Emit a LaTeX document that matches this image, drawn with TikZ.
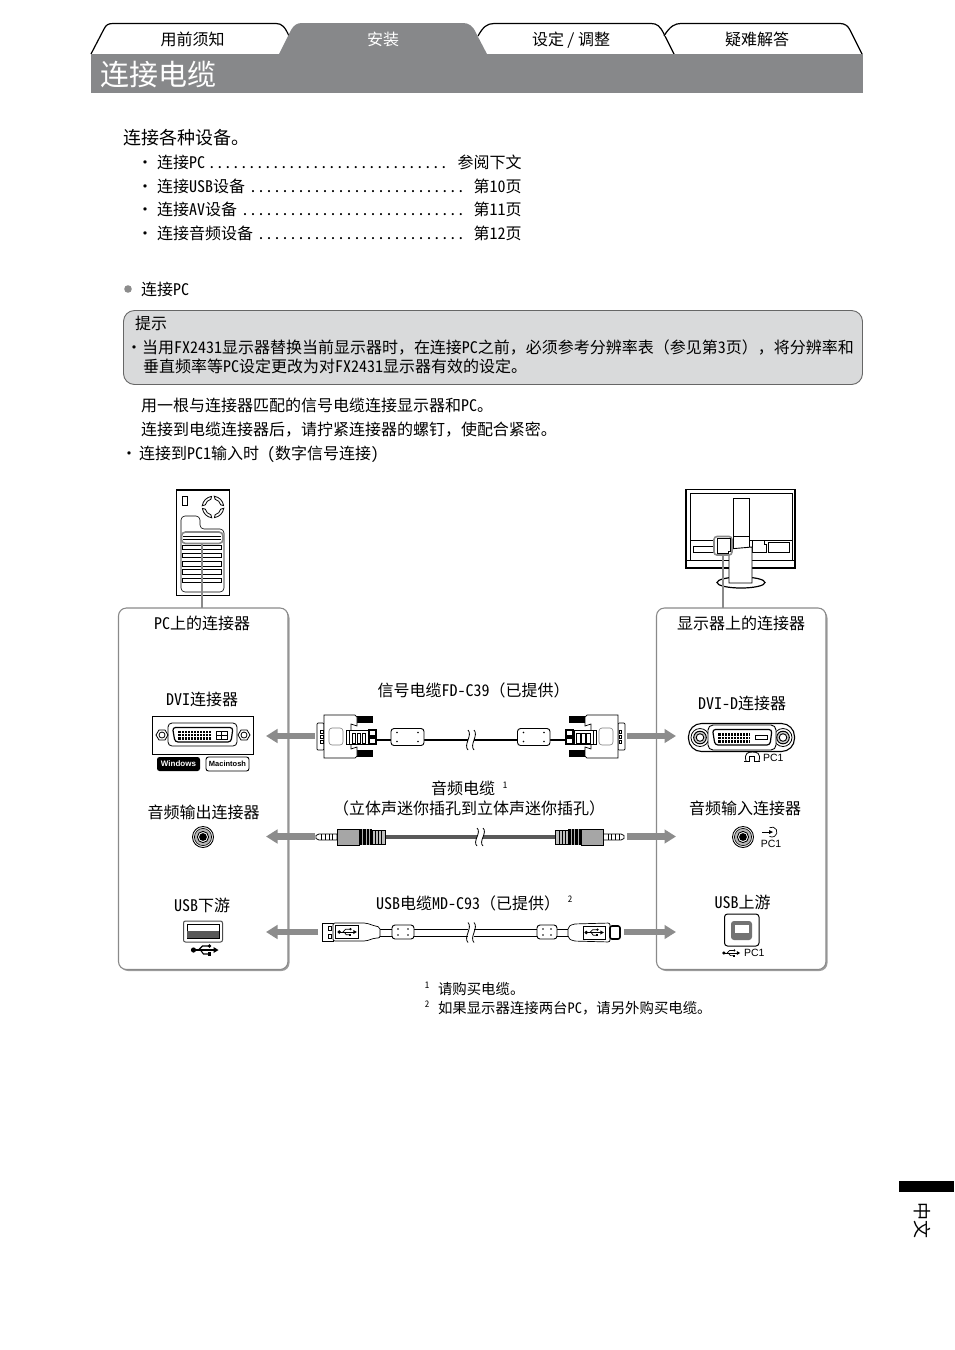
\documentclass[tikz,border=0pt]{standalone}
\usepackage{fontspec}
\setmainfont{Noto Sans CJK SC}[RawFeature=+hwid]
\newfontfamily\fwf{Noto Sans CJK SC}
\newcommand{\fw}[1]{{\fwf #1}}
\newfontfamily\arial{Liberation Sans}
\usetikzlibrary{arrows.meta}
\definecolor{hdr}{HTML}{87888A}
\definecolor{arr}{HTML}{8C8C8C}
\definecolor{hint}{HTML}{D9DADB}
\definecolor{panelc}{HTML}{8A8A8A}
\newcommand{\fs}[1]{\fontsize{#1}{#1}\selectfont}
\tikzset{
 tx/.style={inner sep=0,outer sep=0,font=\fs{16},text height=15pt,text depth=2pt},
 txs/.style={inner sep=0,outer sep=0,font=\fs{14.4},text height=12pt,text depth=2pt},
 sup/.style={inner sep=0,outer sep=0,font=\fs{9}},
 pc/.style={inner sep=0,outer sep=0,font=\arial\fs{10.5}},
 tabline/.style={draw=black,line width=1.2pt,fill=white,line join=round},
 grayhl/.style={draw=panelc,line width=1.6pt},
 garrow/.style={draw=arr,line width=6.5pt,-{Triangle[width=13.5pt,length=11.5pt]}},
 panel/.style={draw=panelc,line width=1.1pt,rounded corners=8pt,fill=white},
 shadow/.style={draw=none,fill=black!38,rounded corners=8pt},
 thin1/.style={draw=black,line width=.7pt},
}
% USB symbol
\newcommand{\usbsym}[3]{\begin{scope}[shift={(#1,#2)},scale=#3]
 \draw[black,line width=#3*1.3pt] (-11,0) -- (10,0);
 \fill (-11,0) circle (2.6);
 \fill (14,0) -- (9,-3) -- (9,3) -- cycle;
 \draw[black,line width=#3*1.1pt] (-6,0) -- (-2,-4) -- (4,-4);
 \fill (5,-4) circle (1.8);
 \draw[black,line width=#3*1.1pt] (-4,0) -- (-1,4) -- (4,4);
 \fill (3,2.4) rectangle (6.2,5.6);
\end{scope}}
% Jack
\newcommand{\jack}[2]{\begin{scope}[shift={(#1,#2)}]
 \draw[black,line width=.9pt,fill=white] (0,0) circle (10.5);
 \draw[black,line width=.6pt,fill=black!28] (0,0) circle (8.6);
 \draw[black,line width=.9pt,fill=white] (0,0) circle (5.6);
 \fill (0,0) circle (3.9);
\end{scope}}
% pin grid
\newcommand{\pins}[4]{\fill (#1,#2) rectangle (#3,#4);
 \foreach \i in {1,...,40}{\pgfmathsetmacro\xx{#1+\i*3}\pgfmathparse{\xx<#3?1:0}\ifnum\pgfmathresult=1\relax
  \draw[white,line width=.9pt] (\xx,#2) -- (\xx,#4);\fi}
 \draw[white,line width=.9pt] (#1,{(#2+#4)/2-1.5}) -- (#3,{(#2+#4)/2-1.5}) (#1,{(#2+#4)/2+1.5}) -- (#3,{(#2+#4)/2+1.5});}
% DVI plug, left side form
\newcommand{\dviplug}{
 \draw[thin1,fill=white,rounded corners=1pt] (317,723) rectangle (324,750);
 \foreach \y in {730,735,740} \draw[black,line width=.7pt,fill=white] (320.5,\y) rectangle (323,\y+3);
 \fill (357,716) rectangle (373,723);
 \fill (357,750) rectangle (373,757);
 \draw[thin1,fill=white] (324,715) -- (355,715) -- (357,717) -- (357,726) -- (351,724) -- (351,749) -- (357,747) -- (357,756) -- (355,758) -- (324,758) -- cycle;
 \draw[black!50,line width=.6pt,rounded corners=3pt] (329,728) rectangle (343,745);
 \draw[thin1,fill=white] (346,730) rectangle (368,744);
 \draw[black,line width=1pt] (346,730) rectangle (349,744);
 \foreach \x in {352,357,362} \draw[black,line width=.8pt] (\x,733) rectangle (\x+3.5,743);
 \fill (368,729) rectangle (377,745);
 \foreach \y in {731,739} \fill[white] (370,\y) rectangle (375,\y+4);
}
\newcommand{\ferrite}[4]{\draw[black,line width=.9pt,fill=white,rounded corners=3pt] (#1,#2) rectangle (#3,#4);
 \foreach \px in {#1+6,#3-6} \foreach \py in {#2+4,#4-4} \fill (\px,\py) circle (.8);}
\newcommand{\brk}[3]{\fill[white] (#1-3,#2-#3) rectangle (#1+3,#2+#3);
 \draw[black,line width=.8pt] (#1-3,#2-#3) .. controls (#1+2,#2-#3/2) and (#1-8,#2+#3/2) .. (#1-3,#2+#3);
 \draw[black,line width=.8pt] (#1+3,#2-#3) .. controls (#1+8,#2-#3/2) and (#1-2,#2+#3/2) .. (#1+3,#2+#3);}
\newcommand{\audioplug}{
 \draw[thin1,fill=white] (316,835.5) -- (319,834) -- (337,834) -- (337,840) -- (319,840) -- (316,838.5) -- cycle;
 \foreach \x in {321,325,329,332} \draw[black,line width=.8pt] (\x,834) -- (\x,840);
 \draw[thin1,fill=black!35] (337,829) rectangle (359,845);
 \fill (359,829) rectangle (372,845);
 \foreach \x in {362,366,369} \draw[white!70!black,line width=.7pt] (\x,829) -- (\x,845);
 \draw[thin1,fill=black!25] (372,830) rectangle (385,844);
 \foreach \x in {375,378,381} \draw[black,line width=.6pt] (\x,830) -- (\x,844);
}
\begin{document}
\begin{tikzpicture}[x=1pt,y=-1pt]
\useasboundingbox (0,0) rectangle (954,1350);
% Header tabs
\draw[tabline] (91,54) -- (104,29) .. controls (106,25) and (108,23.5) .. (113,23.5) -- (276,23.5) .. controls (282,23.5) and (285,27) .. (289,36) -- (296,54);
\draw[tabline] (478,36) .. controls (483,27) and (487,23.5) .. (494,23.5) -- (651,23.5) .. controls (657,23.5) and (660,26) .. (664,34) -- (674,54);
\draw[tabline] (664,36) .. controls (670,26) and (675,23.5) .. (681,23.5) -- (840,23.5) .. controls (845,23.5) and (848,26) .. (850,30) -- (862,54);
\fill[hdr] (279,54) -- (291,30) .. controls (294,25) and (297,23) .. (302,23) -- (463,23) .. controls (469,23) and (473,26) .. (476,33) -- (488,56) -- cycle;
\fill[hdr] (91,54) rectangle (863,93);
\node[tx] (tab1) at (192.5,39) {用前须知};
\node[tx,text=white] (tab2) at (383,39) {安装};
\node[tx] (tab3) at (571,39) {设定\hspace{3pt}/\hspace{3pt}调整};
\node[tx] (tab4) at (757,39) {疑难解答};
\node[inner sep=0,outer sep=0,text=white,font=\fs{29},text height=26pt,text depth=3pt,anchor=west] (title) at (100,74) {连接电缆};
% Intro
\node[inner sep=0,font=\fs{18},text height=17pt,text depth=2pt,anchor=west] (intro) at (123,137) {连接各种设备。};
\node[tx,anchor=west] (b1) at (137,162) {•};
\node[tx,anchor=west] (b2) at (137,186) {•};
\node[tx,anchor=west] (b3) at (137,209) {•};
\node[tx,anchor=west] (b4) at (137,233) {•};
\node[tx,anchor=west] (l1) at (157,162) {连接PC\hspace{3pt}..............................};
\node[tx,anchor=west] (l2) at (157,186) {连接USB设备\hspace{4pt}...........................};
\node[tx,anchor=west] (l3) at (157,209) {连接AV设备\hspace{4pt}............................};
\node[tx,anchor=west] (l4) at (157,233) {连接音频设备\hspace{4pt}..........................};
\node[tx,anchor=east] (r1) at (521.5,162) {参阅下文};
\node[tx,anchor=east] (r2) at (521.5,186) {第10页};
\node[tx,anchor=east] (r3) at (521.5,209) {第11页};
\node[tx,anchor=east] (r4) at (521.5,233) {第12页};
\fill[black!45] (128,289) circle (3.8);
\node[tx,anchor=west] (pcsec) at (141,289) {连接PC};
% Hint box
\draw[draw=black!60,line width=.9pt,fill=hint,rounded corners=11pt] (123.5,310.5) rectangle (862.5,384.5);
\node[tx,anchor=west] (hint0) at (135,323) {提示};
\node[tx,anchor=west] (hintb) at (126,347) {•};
\node[tx,anchor=west] (hint1) at (142,347) {当用FX2431显示器替换当前显示器时\fw{，}在连接PC之前\fw{，}必须参考分辨率表\fw{（}参见第3页\fw{），}将分辨率和};
\node[tx,anchor=west] (hint2) at (143,366) {垂直频率等PC设定更改为对FX2431显示器有效的设定。};
\node[tx,anchor=west] (p1) at (141,405) {用一根与连接器匹配的信号电缆连接显示器和PC。};
\node[tx,anchor=west] (p2) at (141,429) {连接到电缆连接器后\fw{，}请拧紧连接器的螺钉\fw{，}使配合紧密。};
\node[tx,anchor=west] (p3b) at (121,453) {•};
\node[tx,anchor=west] (p3) at (139,453) {连接到PC1输入时 (数字信号连接)};
% Panels
\fill[shadow] (120,610) rectangle (289.5,971);
\draw[panel] (118.5,608) rectangle (288,969.5);
\fill[shadow] (658,610) rectangle (827.5,971);
\draw[panel] (656.5,608) rectangle (826,969.5);
\coordinate (lpTop) at (202,608);
\coordinate (rpTop) at (723,608);
% PC tower
\draw[black,line width=1.3pt,fill=white] (176.5,490) rectangle (229.5,595.5);
\draw[black,line width=.8pt] (182,496) rectangle (187.5,505);
\begin{scope}[shift={(213,507)}]
 \foreach \a in {45,135,225,315} \draw[black,line width=.8pt,rotate=\a] (-4,-7) arc[start angle=240,end angle=300,radius=8] -- (6.5,-8.5) arc[start angle=307,end angle=233,radius=11] -- cycle;
\end{scope}
\draw[black,line width=.6pt,rounded corners=4pt] (181,592) -- (181,516) -- (200,516) -- (200,529) -- (224,529) -- (224,592) -- cycle;
\foreach \y in {545,553,561.5,569.5,578} \draw[black,line width=.7pt] (182,\y) rectangle (221,\y+4.5);
\draw[black,line width=.7pt] (183,536) -- (221,536) (183,539.5) -- (221,539.5);
\draw[grayhl,rounded corners=4pt] (181.5,532) rectangle (223,543.5);
\coordinate (pcslot) at (202,543.5);
\draw[grayhl] (pcslot) -- (lpTop);
% Monitor
\draw[black,line width=1.3pt,fill=white] (686,489.5) rectangle (795,568);
\draw[black,line width=.9pt] (690,493) rectangle (792,560);
\draw[black,line width=.8pt] (686,560) -- (795,560);
\draw[black,line width=.8pt] (690,540) -- (792,540);
\draw[black,line width=.9pt,fill=white] (733,498) rectangle (749,549);
\draw[black,line width=.8pt] (733,536) -- (749,536);
\draw[black,line width=.8pt,fill=white] (693,546) rectangle (713,552);
\draw[black,line width=.8pt,fill=white] (768,542) rectangle (789,552);
\draw[black,line width=.8pt,fill=white] (752,540) -- (764,540) -- (764,544) -- (766,544) -- (766,552) -- (752,552) -- cycle;
\draw[black,line width=1.2pt] (741,582.5) ellipse (24 and 5.5);
\draw[black,line width=.9pt,fill=white] (729,549) -- (752,547) -- (752,583) -- (729,583) -- cycle;
\draw[grayhl,rounded corners=3pt,fill=white] (714,536.5) rectangle (732,555);
\draw[black,line width=.7pt] (717,538.5) -- (730,538.5) -- (730,551) -- (728,551) -- (728,553) -- (717,553) -- cycle;
\coordinate (monport) at (723,555);
\draw[grayhl] (monport) -- (rpTop);
% Panel titles
\node[tx] (lt) at (202,623) {PC上的连接器};
\node[tx] (rt) at (741,623) {显示器上的连接器};
\node[tx] (ldvi) at (202,699) {DVI连接器};
\node[tx] (rdvi) at (742,703) {DVI-D连接器};
% Left DVI
\draw[black,line width=.9pt] (152.5,716) rectangle (253.5,754.5);
\foreach \x in {162,244} {
 \draw[black,line width=.8pt] (\x-6,735) -- (\x-3,730) -- (\x+3,730) -- (\x+6,735) -- (\x+3,740) -- (\x-3,740) -- cycle;
 \draw[black,line width=.8pt] (\x,735) circle (3);}
\draw[black,line width=.8pt,rounded corners=4pt] (168,723) rectangle (237,746);
\draw[black,line width=1.2pt,rounded corners=3pt] (172.5,727.5) -- (233,727.5) -- (231,742) -- (175,742) -- cycle;
\pins{178}{730.5}{212}{739.5}
\draw[black,line width=.8pt] (216,731) rectangle (227,739.5);
\draw[black,line width=.5pt] (221.5,731) -- (221.5,739.5) (216,735.2) -- (227,735.2);
\node[fill=black,text=white,rounded corners=2.5pt,inner sep=0,minimum width=43pt,minimum height=14pt,font=\arial\bfseries\fs{8}] (win) at (178.5,764) {Windows};
\node[draw=black,line width=.9pt,rounded corners=2.5pt,inner sep=0,minimum width=43pt,minimum height=14pt,font=\arial\bfseries\fs{7.5}] (mac) at (227.5,764) {Macintosh};
% Right DVI
\draw[black,line width=1.1pt,fill=white,rounded corners=13pt] (688.5,723.5) rectangle (794.5,751.5);
\foreach \x in {700,783} {
 \draw[black,line width=.8pt,fill=white] (\x,737.5) circle (9);
 \draw[black,line width=1pt,fill=black!20] (\x,737.5) circle (6.3);
 \draw[black,line width=.9pt,fill=white] (\x,737.5) circle (3.8);}
\draw[black,line width=.9pt,fill=white,rounded corners=5pt] (708,725) rectangle (776,750);
\draw[black,line width=1.2pt,rounded corners=3pt] (712.5,729.5) -- (772,729.5) -- (770,745) -- (715,745) -- cycle;
\pins{718}{732.5}{750}{743}
\draw[black,line width=.9pt] (755,735.5) rectangle (767,739.5);
% symbol and PC1
\draw[black,line width=.8pt] (746,761) .. controls (744,753) and (748,752) .. (752.5,752) .. controls (757,752) and (761,753) .. (759,761);
\draw[black,line width=1pt] (744,761) -- (749,761) -- (749,756) -- (754,756) -- (754,761) -- (760,761);
\node[pc,anchor=west] (pc1a) at (763,758) {PC1};
% Audio labels
\node[tx] (lau) at (203.5,812) {音频输出连接器};
\node[tx] (rau) at (745,808) {音频输入连接器};
\jack{203}{837}
\jack{743}{837}
\draw[black,line width=.7pt] (762,832) -- (771,832);
\draw[black,line width=.7pt] (769.5,827.7) arc[start angle=-120,end angle=120,radius=5];
\fill (773,832) -- (769,830) -- (769,834) -- cycle;
\node[pc] (pc1b) at (771,843.5) {PC1};
% USB labels
\node[tx] (lusb) at (202,905) {USB下游};
\node[tx] (rusb) at (742.5,902) {USB上游};
\draw[black!70,line width=1pt,fill=white,rounded corners=2pt] (183.5,921) rectangle (222.5,942);
\draw[black,line width=1pt,fill=white] (187,924) rectangle (219,938);
\fill[black!65] (187,931) rectangle (219,938);
\usbsym{204.5}{950}{1}
\draw[black,line width=1pt,fill=white,rounded corners=3pt] (724.5,914) rectangle (759,946);
\fill[black!55,rounded corners=3pt] (731,921) -- (752,921) -- (752,940) -- (731,940) -- cycle;
\fill[white] (734.5,924.5) rectangle (748.5,933);
\usbsym{731}{953}{.65}
\node[pc,anchor=west] (pc1c) at (744,953) {PC1};
% Cable labels
\node[tx] (c1) at (473.5,690) {信号电缆FD-C39\fw{（}已提供\fw{）}};
\node[tx,anchor=west] (c2) at (431,788) {音频电缆};
\node[sup] (c2s) at (505,785) {1};
\node[tx] (c3) at (469,808) {\fw{（}立体声迷你插孔到立体声迷你插孔\fw{）}};
\node[tx,anchor=west] (c4) at (376,903) {USB电缆MD-C93\fw{（}已提供\fw{）}};
\node[sup] (c4s) at (570,899) {2};
% DVI cable
\draw[black,line width=1.1pt] (377,740) -- (565,740);
\ferrite{391}{728.5}{424}{745.5}
\ferrite{517.5}{728.5}{550}{745.5}
\brk{471}{740}{10}
\dviplug
\begin{scope}[xshift=942pt,xscale=-1]\dviplug\end{scope}
% Audio cable
\draw[black!65,line width=3.4pt] (385,837) -- (556,837);
\brk{480}{837}{9}
\audioplug
\begin{scope}[xshift=940pt,xscale=-1]\audioplug\end{scope}
% USB cable
\draw[black,line width=.9pt,fill=white] (377,929) rectangle (568,936);
\ferrite{392}{925}{414}{939}
\ferrite{537}{925}{557}{939}
\brk{471}{932.5}{10}
\draw[thin1,fill=white] (322,923) rectangle (333,941);
\draw[black,line width=.7pt] (328,926) rectangle (331,930);
\draw[black,line width=.7pt] (328,934) rectangle (331,938);
\draw[thin1,fill=white,rounded corners=2pt] (333,923) -- (366,923) -- (375,926) -- (380,927) -- (380,938) -- (375,938) -- (366,941) -- (333,941) -- cycle;
\draw[black,line width=.9pt] (335.5,925.5) rectangle (358.5,938.5);
\usbsym{347}{932}{.7}
\draw[thin1,fill=white,rounded corners=2pt] (568,927) -- (573,924) -- (610,923) -- (610,942) -- (573,941) -- (568,938) -- cycle;
\draw[black,line width=.9pt] (583,926) rectangle (605,939);
\usbsym{594}{932.5}{.7}
\draw[black,line width=1.6pt,fill=white,rounded corners=2pt] (610,926) rectangle (620,939);
% Arrows
\coordinate (dviL) at (315,736);  \coordinate (lpA) at (266,736);
\coordinate (dviR) at (627,736);  \coordinate (rpA) at (676,736);
\coordinate (audL) at (315,836.5);  \coordinate (lpB) at (266,836.5);
\coordinate (audR) at (627,836.5);  \coordinate (rpB) at (676,836.5);
\coordinate (usbL) at (318,932);  \coordinate (lpC) at (266,932);
\coordinate (usbR) at (624,932);  \coordinate (rpC) at (676,932);
\draw[garrow] (dviL) -- (lpA);
\draw[garrow] (dviR) -- (rpA);
\draw[garrow] (audL) -- (lpB);
\draw[garrow] (audR) -- (rpB);
\draw[garrow] (usbL) -- (lpC);
\draw[garrow] (usbR) -- (rpC);
% Footnotes
\node[sup] (f1s) at (427,985) {1};
\node[txs,anchor=west] (f1) at (438,989) {请购买电缆。};
\node[sup] (f2s) at (427,1004) {2};
\node[txs,anchor=west] (f2) at (438,1008) {如果显示器连接两台PC\fw{，}请另外购买电缆。};
% Side tab
\fill (899,1181) rectangle (954,1192);
\node[inner sep=0,font=\fs{18},rotate=-90] (side) at (922.5,1220) {中文};
\end{tikzpicture}
\end{document}
